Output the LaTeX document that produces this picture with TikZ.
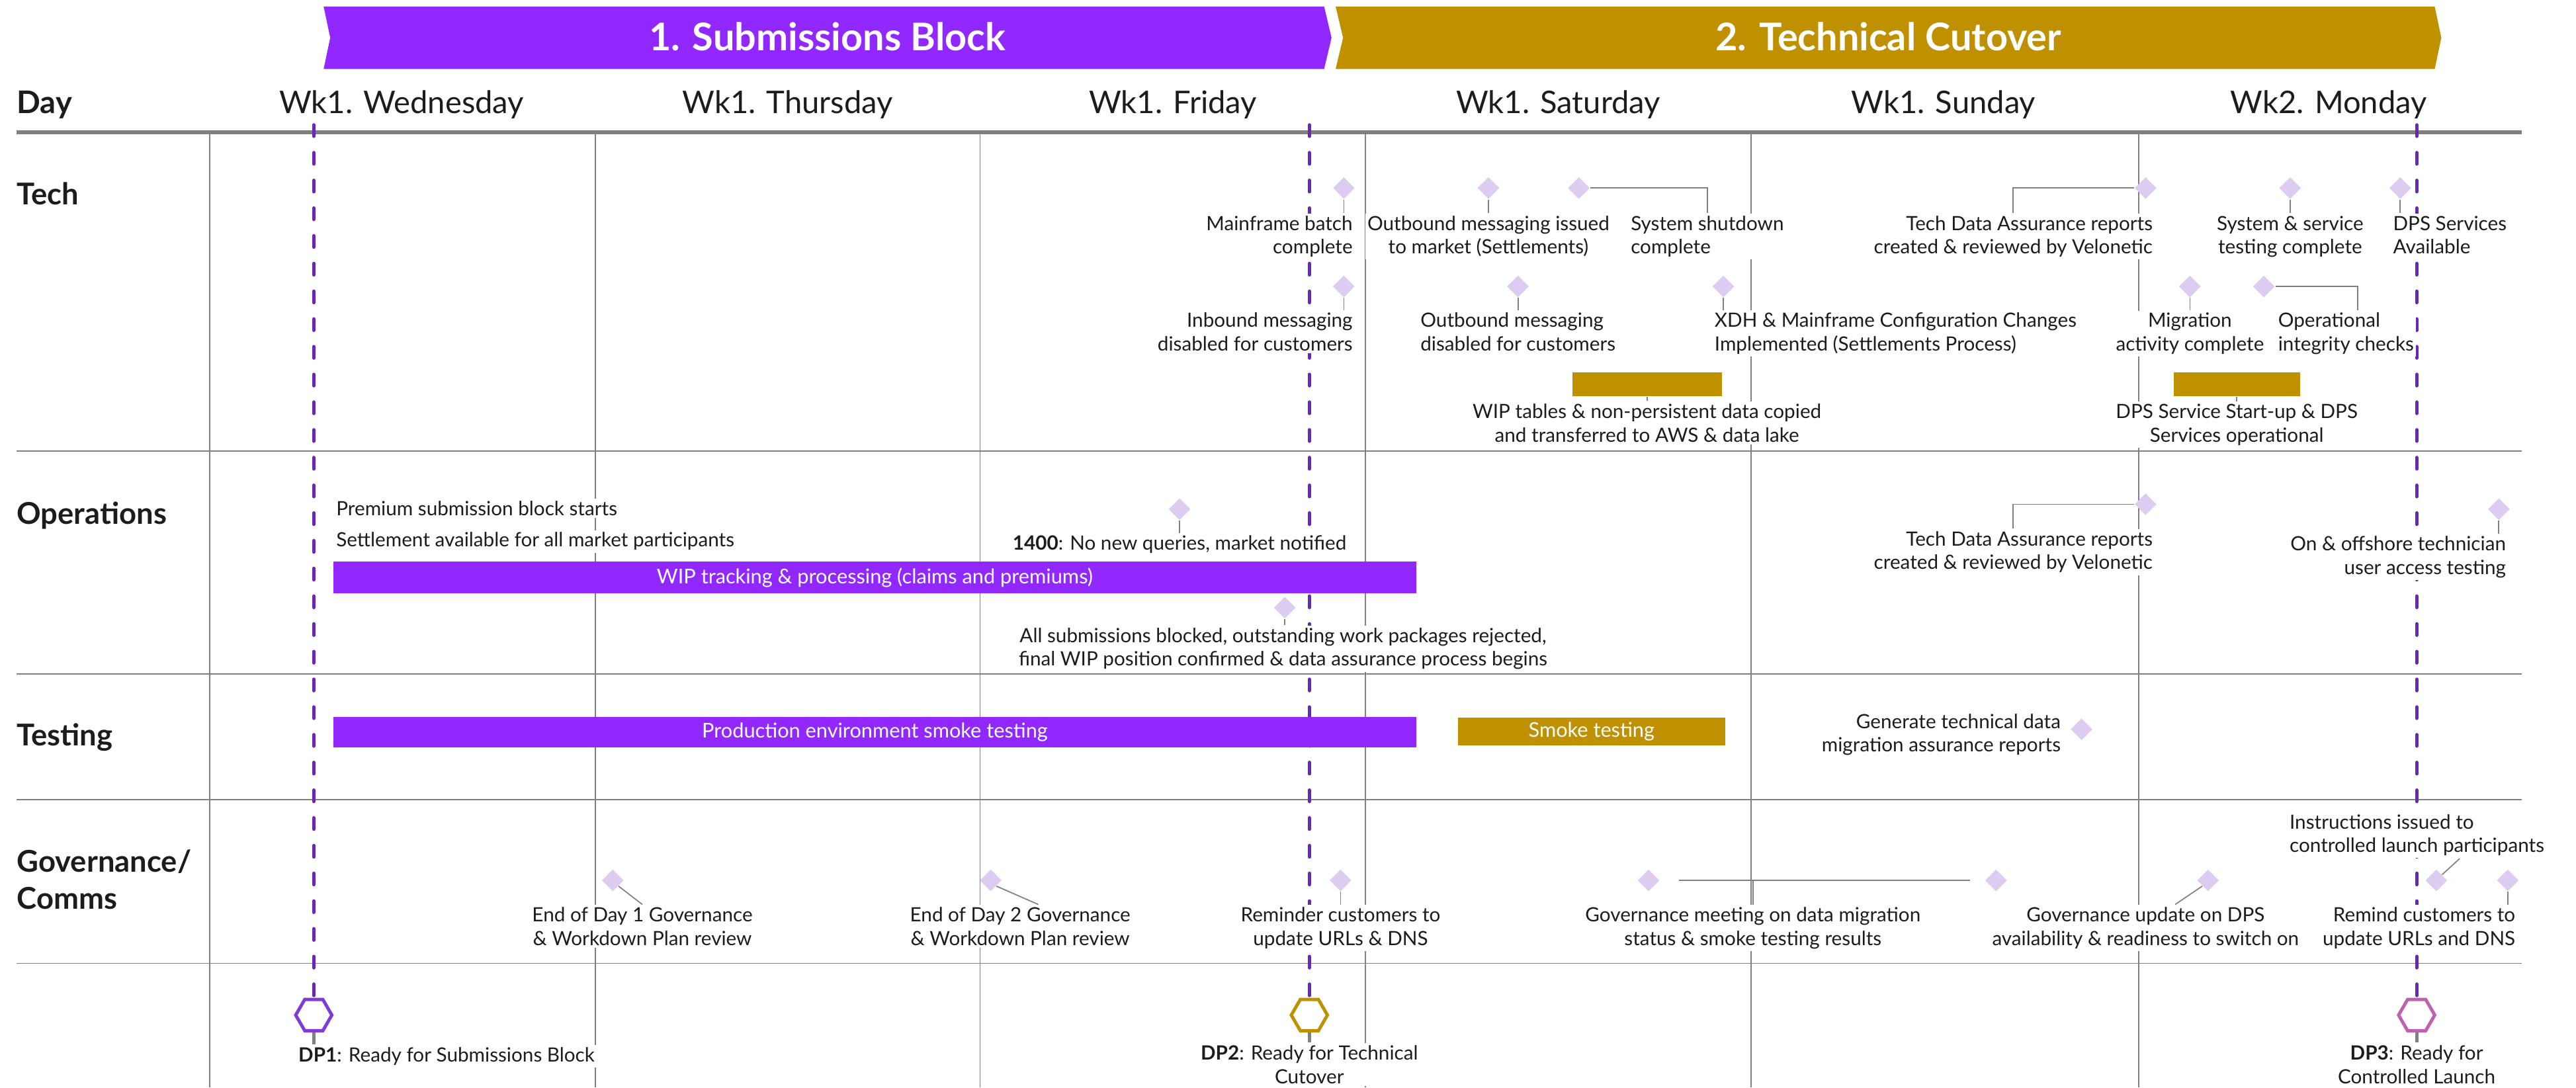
\documentclass[tikz,border=0pt]{standalone}
\usepackage{fontspec}
\setmainfont{Lato}
\usetikzlibrary{shapes.geometric, positioning}

\definecolor{subpurple}{RGB}{145,40,255}
\definecolor{cutgold}{RGB}{191,144,0}
\definecolor{dpline}{RGB}{106,38,180}
\definecolor{msfill}{RGB}{221,204,241}
\definecolor{rulegray}{RGB}{128,128,128}
\definecolor{ink}{RGB}{28,28,28}
\definecolor{dpone}{RGB}{126,59,216}
\definecolor{dpthree}{RGB}{192,96,176}

\tikzset{
    banner/.style={font=\fontsize{16.5}{19}\selectfont\bfseries, text=white, anchor=base},
    dayhead/.style={font=\fontsize{13.5}{16}\selectfont, text=ink, anchor=base},
    lanehead/.style={font=\fontsize{13}{16}\selectfont\bfseries, text=ink, anchor=base west, inner sep=0pt, align=left},
    gridline/.style={rulegray, line width=0.5pt},
    milestone/.style={diamond, fill=msfill, minimum width=0.335cm, minimum height=0.335cm, inner sep=0pt},
    lbl/.style={font=\fontsize{8.5}{10.2}\selectfont, text=ink, fill=white, inner sep=1pt, align=center, anchor=base},
    leader/.style={rulegray, line width=0.5pt},
    taskbar/.style={rectangle, inner sep=0pt, font=\fontsize{8.8}{10.5}\selectfont, text=white},
    dphex/.style={regular polygon, regular polygon sides=6, minimum size=0.55cm, inner sep=0pt, line width=1.4pt, fill=white, draw=#1},
    dpdash/.style={dpline, line width=1.4pt, dash pattern=on 5pt off 7pt, line cap=round},
    dpstem/.style={rulegray, line width=1.4pt}
}

\begin{document}
\begin{tikzpicture}[x=0.025cm, y=-0.025cm]
    \useasboundingbox (0,0) rectangle (1568,662);

    % Grid
    \foreach \gx in {127.5, 362.3, 596.6, 831, 1066, 1301.7}
        \draw [gridline] (\gx,81) -- (\gx,662);
    \foreach \gy in {274.7, 410.2, 486.8, 586.5}
        \draw [gridline] (10,\gy) -- (1535,\gy);
    \draw [rulegray, line width=1.8pt] (10,80.5) -- (1535,80.5);

    % Phase banners
    \fill [subpurple] (197,4) -- (806,4) -- (810.5,23) -- (806,42) -- (197,42) -- (201,23) -- cycle;
    \fill [cutgold] (813,4) -- (1482,4) -- (1486,23) -- (1482,42) -- (813,42) -- (817.5,23) -- cycle;
    \node (phaseA) [banner] at (503.5,31) {1. Submissions Block};
    \node (phaseB) [banner] at (1149.5,31) {2. Technical Cutover};

    % Day headings
    \node (dayHd) [lanehead, font=\fontsize{13.5}{16}\selectfont\bfseries] at (10,69) {Day};
    \node (wed) [dayhead] at (244.5,69) {Wk1. Wednesday};
    \node (thu) [dayhead] at (479.5,69) {Wk1. Thursday};
    \node (fri) [dayhead] at (714,69) {Wk1. Friday};
    \node (sat) [dayhead] at (948.5,69) {Wk1. Saturday};
    \node (sun) [dayhead] at (1183,69) {Wk1. Sunday};
    \node (mon) [dayhead] at (1417.5,69) {Wk2. Monday};

    % Lanes
    \node (techLn) [lanehead] at (10,124.5) {Tech};
    \node (opsLn) [lanehead] at (10,319) {Operations};
    \node (testLn) [lanehead] at (10,454) {Testing};
    \node (govLn) [lanehead] at (10,553.6) {Governance/\\Comms};

    % Decision points
    \node (dp1) [dphex=dpone] at (191,618) {};
    \node (dp2) [dphex=cutgold] at (797,618) {};
    \node (dp3) [dphex=dpthree] at (1471,618) {};
    \coordinate (dp1top) at (191,76);
    \coordinate (dp2top) at (797,76);
    \coordinate (dp3top) at (1471,76);
    \draw [dpdash] (dp1top) -- (dp1.north);
    \draw [dpdash] (dp2top) -- (dp2.north);
    \draw [dpdash] (dp3top) -- (dp3.north);

    \node (dp1Lbl) [lbl, anchor=base west] at (180,646.4) {\textbf{DP1}: Ready for Submissions Block};
    \node (dp2Lbl) [lbl] at (797,659.6) {\textbf{DP2}: Ready for Technical\\Cutover};
    \node (dp3Lbl) [lbl] at (1471,659.6) {\textbf{DP3}: Ready for\\Controlled Launch};
    \draw [dpstem] (dp1.south) -- (dp1.south |- dp1Lbl.north);
    \draw [dpstem] (dp2.south) -- (dp2Lbl.north);
    \draw [dpstem] (dp3.south) -- (dp3Lbl.north);

    % Tech
    \node (tMf) [milestone] at (818,114.5) {};
    \node (tOutIss) [milestone] at (906,114.5) {};
    \node (tShut) [milestone] at (961,114.5) {};
    \node (tTda) [milestone] at (1306,114.5) {};
    \node (tSys) [milestone] at (1394,114.5) {};
    \node (tDps) [milestone] at (1461,114.5) {};
    \node (tIn) [milestone] at (818,174.4) {};
    \node (tOutDis) [milestone] at (924,174.4) {};
    \node (tXdh) [milestone] at (1049,174.4) {};
    \node (tMig) [milestone] at (1333,174.4) {};
    \node (tOpi) [milestone] at (1378,174.4) {};
    \node (tWipBar) [taskbar, fill=cutgold, minimum width=2.275cm, minimum height=0.36cm] at (1002.5,234) {};
    \node (tDpsBar) [taskbar, fill=cutgold, minimum width=1.925cm, minimum height=0.36cm] at (1361.5,234) {};

    \node (tMfLbl) [lbl, align=right, anchor=base east] at (825,154.5) {Mainframe batch\\complete};
    \node (tOutIssLbl) [lbl] at (906,154.5) {Outbound messaging issued\\to market (Settlements)};
    \node (tShutLbl) [lbl, align=left, anchor=base west] at (991,154.5) {System shutdown\\complete};
    \node (tTdaLbl) [lbl, align=right, anchor=base east] at (1312,154.5) {Tech Data Assurance reports\\created \& reviewed by Velonetic};
    \node (tSysLbl) [lbl] at (1394,154.5) {System \& service\\testing complete};
    \node (tDpsLbl) [lbl, align=left, anchor=base west] at (1455,154.5) {DPS Services\\Available};
    \node (tInLbl) [lbl, align=right, anchor=base east] at (825,213.6) {Inbound messaging\\disabled for customers};
    \node (tOutDisLbl) [lbl, align=left] at (924,213.6) {Outbound messaging\\disabled for customers};
    \node (tXdhLbl) [lbl, align=left, anchor=base west] at (1042,213.6) {XDH \& Mainframe Configuration Changes\\Implemented (Settlements Process)};
    \node (tMigLbl) [lbl] at (1333,213.6) {Migration\\activity complete};
    \node (tOpiLbl) [lbl, align=left, anchor=base west] at (1385,213.6) {Operational\\integrity checks};
    \node (tWipLbl) [lbl] at (1002.5,269) {WIP tables \& non-persistent data copied\\and transferred to AWS \& data lake};
    \node (tDpsBarLbl) [lbl] at (1361.5,269) {DPS Service Start-up \& DPS\\Services operational};

    \draw [leader] (tMf.south) -- (tMf.south |- tMfLbl.north);
    \draw [leader] (tOutIss.south) -- (tOutIssLbl.north);
    \draw [leader] (tShut.east) -| (tShutLbl.north);
    \draw [leader] (tTda.west) -| (tTdaLbl.north);
    \draw [leader] (tSys.south) -- (tSysLbl.north);
    \draw [leader] (tDps.south) -- (tDps.south |- tDpsLbl.north);
    \draw [leader] (tIn.south) -- (tIn.south |- tInLbl.north);
    \draw [leader] (tOutDis.south) -- (tOutDisLbl.north);
    \draw [leader] (tXdh.south) -- (tXdh.south |- tXdhLbl.north);
    \draw [leader] (tMig.south) -- (tMigLbl.north);
    \draw [leader] (tOpi.east) -| ([xshift=0.18cm]tOpiLbl.north);
    \draw [leader] (tWipBar.south) -- (tWipLbl.north);
    \draw [leader] (tDpsBar.south) -- (tDpsBarLbl.north);

    % Operations
    \node (oPrem) [lbl, anchor=base west] at (203,313.8) {Premium submission block starts};
    \node (oSettle) [lbl, anchor=base west] at (203,333) {Settlement available for all market participants};
    \node (oWipBar) [taskbar, fill=subpurple, minimum width=16.475cm, minimum height=0.475cm] at (532.5,351.5) {WIP tracking \& processing (claims and premiums)};
    \node (o1400) [milestone] at (718,310) {};
    \node (oBlock) [milestone] at (782,370) {};
    \node (oTda) [milestone] at (1306,307) {};
    \node (oAcc) [milestone] at (1521,310) {};
    \node (o1400Lbl) [lbl] at (718,335) {\textbf{1400}: No new queries, market notified};
    \node (oBlockLbl) [lbl] at (781,405.4) {All submissions blocked, outstanding work packages rejected,\\final WIP position confirmed \& data assurance process begins};
    \node (oTdaLbl) [lbl, align=right, anchor=base east] at (1312,346.7) {Tech Data Assurance reports\\created \& reviewed by Velonetic};
    \node (oAccLbl) [lbl, align=right, anchor=base east] at (1527,349.6) {On \& offshore technician\\user access testing};
    \draw [leader] (o1400.south) -- (o1400Lbl.north);
    \draw [leader] (oBlock.south) -- (oBlock.south |- oBlockLbl.north);
    \draw [leader] (oTda.west) -| (oTdaLbl.north);
    \draw [leader] (oAcc.south) -- (oAcc.south |- oAccLbl.north);

    % Testing
    \node (sProdBar) [taskbar, fill=subpurple, minimum width=16.475cm, minimum height=0.46cm] at (532.5,445.75) {Production environment smoke testing};
    \node (sSmokeBar) [taskbar, fill=cutgold, minimum width=4.06cm, minimum height=0.425cm] at (968.75,445.5) {Smoke testing};
    \node (sGen) [milestone] at (1267,444) {};
    \node (sGenLbl) [lbl, align=right, anchor=base east] at (1256,457.8) {Generate technical data\\migration assurance reports};

    % Governance / Comms
    \node (gDay1) [milestone] at (373,536) {};
    \node (gDay2) [milestone] at (603,536) {};
    \node (gRem) [milestone] at (816,536) {};
    \node (gMeetA) [milestone] at (1003.5,536) {};
    \node (gMeetB) [milestone] at (1215,536) {};
    \node (gUpd) [milestone] at (1344,536) {};
    \node (gInst) [milestone] at (1483,536) {};
    \node (gRemind) [milestone] at (1526.5,536) {};

    \node (gDay1Lbl) [lbl] at (391,575.5) {End of Day 1 Governance\\\& Workdown Plan review};
    \node (gDay2Lbl) [lbl] at (621,575.5) {End of Day 2 Governance\\\& Workdown Plan review};
    \node (gRemLbl) [lbl] at (816,575.5) {Reminder customers to\\update URLs \& DNS};
    \node (gMeetLbl) [lbl] at (1067,575.5) {Governance meeting on data migration\\status \& smoke testing results};
    \node (gUpdLbl) [lbl] at (1306,575.5) {Governance update on DPS\\availability \& readiness to switch on};
    \node (gInstLbl) [lbl, align=left, anchor=base west] at (1392,519) {Instructions issued to\\controlled launch participants};
    \node (gRemindLbl) [lbl, align=right, anchor=base east] at (1532.7,575.5) {Remind customers to\\update URLs and DNS};

    \draw [leader] (gDay1.south east) -- (gDay1Lbl.north);
    \draw [leader] (gDay2.south east) -- ([xshift=0.275cm]gDay2Lbl.north);
    \draw [leader] (gRem.south) -- (gRemLbl.north);
    \draw [leader, shorten <=0.29cm, shorten >=0.22cm] (gMeetA.east) -- (gMeetB.west);
    \draw [leader] (gMeetLbl.north |- gMeetA) -- (gMeetLbl.north);
    \draw [leader] (gUpd.south west) -- ([xshift=0.45cm]gUpdLbl.north);
    \draw [leader] (gInst.north east) -- ([xshift=0.65cm]gInstLbl.south);
    \draw [leader] (gRemind.south) -- (gRemind.south |- gRemindLbl.north);
\end{tikzpicture}
\end{document}
